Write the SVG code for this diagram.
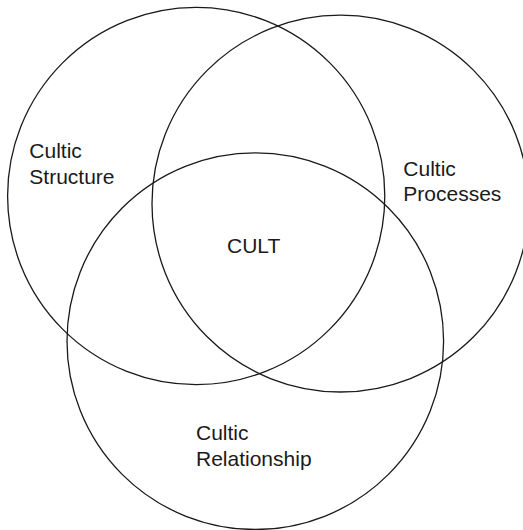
<svg xmlns="http://www.w3.org/2000/svg" width="523" height="530" viewBox="0 0 523 530">
<style>
.c{fill:none;stroke:#1a1a1a;stroke-width:1.3}
.t{font-family:"Liberation Sans",Arial,sans-serif;font-size:21px;fill:#1a1a1a}
</style>
<rect width="523" height="530" fill="#fff"/>
<g id="structure">
<circle class="c" cx="196.2" cy="196" r="188.6"/>
<text class="t" x="29.3" y="158.3">Cultic</text>
<text class="t" x="29.3" y="184.3">Structure</text>
</g>
<g id="processes">
<circle class="c" cx="340.4" cy="203.6" r="188.4"/>
<text class="t" x="403.3" y="175.5">Cultic</text>
<text class="t" x="403.3" y="201">Processes</text>
</g>
<g id="relationship">
<circle class="c" cx="255.3" cy="341.2" r="188.3"/>
<text class="t" x="196" y="439.5">Cultic</text>
<text class="t" x="196" y="465.8">Relationship</text>
</g>
<g id="cult">
<text class="t" x="227" y="253.3">CULT</text>
</g>
<g id="connectors"></g>
</svg>
